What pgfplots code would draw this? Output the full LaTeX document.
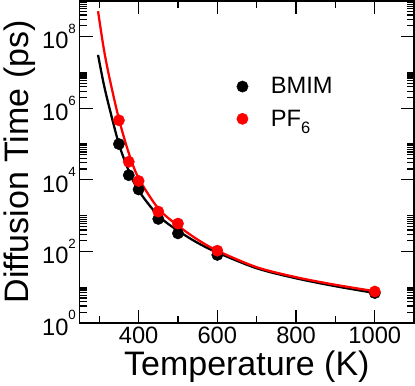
\documentclass[border=0pt]{standalone}
\usepackage{fontspec}
\setmainfont{Liberation Sans}
\usepackage{pgfplots}
\pgfplotsset{compat=1.18}
\newcommand\tp[1]{10\raisebox{15bp}{\fontsize{13}{13}\selectfont #1}}
\begin{document}
\begin{tikzpicture}
\begin{axis}[
  scale only axis, width=324bp, height=312bp,
  xmin=250, xmax=1100, ymode=log, ymin=1, ymax=1e9,
  xtick={400,600,800,1000}, minor xtick={300,500,700,900},
  ytick={1,1e2,1e4,1e6,1e8},
  yticklabels={\tp{0},\tp{2},\tp{4},\tp{6},\tp{8}},
  minor ytick={2,3,4,5,6,7,8,9,10,
    200,300,400,500,600,700,800,900,1000,
    2e4,3e4,4e4,5e4,6e4,7e4,8e4,9e4,1e5,
    2e6,3e6,4e6,5e6,6e6,7e6,8e6,9e6,1e7,
    2e8,3e8,4e8,5e8,6e8,7e8,8e8,9e8},
  tick align=inside, major tick length=13bp, minor tick length=7bp,
  every tick/.style={black, line width=1.2bp},
  axis line style={line width=1.6bp},
  ticklabel style={font=\fontsize{23}{27}\selectfont},
  xticklabel style={/pgf/number format/assume math mode=true,
    /pgf/number format/1000 sep={}},
  label style={font=\fontsize{33}{38}\selectfont},
  xlabel={Temperature (K)}, ylabel={Diffusion Time (ps)},
  legend style={draw=none, fill=none, at={(0.46,0.775)}, anchor=north west,
    font=\fontsize{23}{27}\selectfont, row sep=10bp},
  legend cell align=left,
]
% fitted curves
\addplot[black, line width=2.2bp, smooth, forget plot] coordinates {
  (297,3.09e7) (311,5.01e6) (325,1.12e6) (350,1.0e5) (375,1.78e4)
  (400,5012) (450,1000) (500,380) (550,174) (600,93.3) (700,33.9)
  (800,17.8) (900,10.7) (1000,6.92)};
\addplot[black, only marks, mark=*, mark size=5.5bp] coordinates {
  (350,1.0e5) (375,1.35e4) (400,5.4e3) (450,810) (500,320) (600,80) (1000,6.9)};
\addlegendentry{\hspace*{20bp}BMIM}
\addplot[red, line width=2.2bp, smooth, forget plot] coordinates {
  (297,5.13e8) (311,5.01e7) (325,7.94e6) (350,5.01e5) (375,5.62e4)
  (400,1.12e4) (450,1585) (500,525) (550,214) (600,105) (700,36.3)
  (800,19.1) (900,11.7) (1000,7.76)};
\addplot[red, only marks, mark=*, mark size=5.5bp] coordinates {
  (350,4.6e5) (375,3.2e4) (400,9.3e3) (450,1.3e3) (500,600) (600,105) (1000,7.6)};
\addlegendentry{\hspace*{20bp}PF\raisebox{-7bp}{\fontsize{16}{16}\selectfont 6}}
\end{axis}
\end{tikzpicture}
\end{document}
